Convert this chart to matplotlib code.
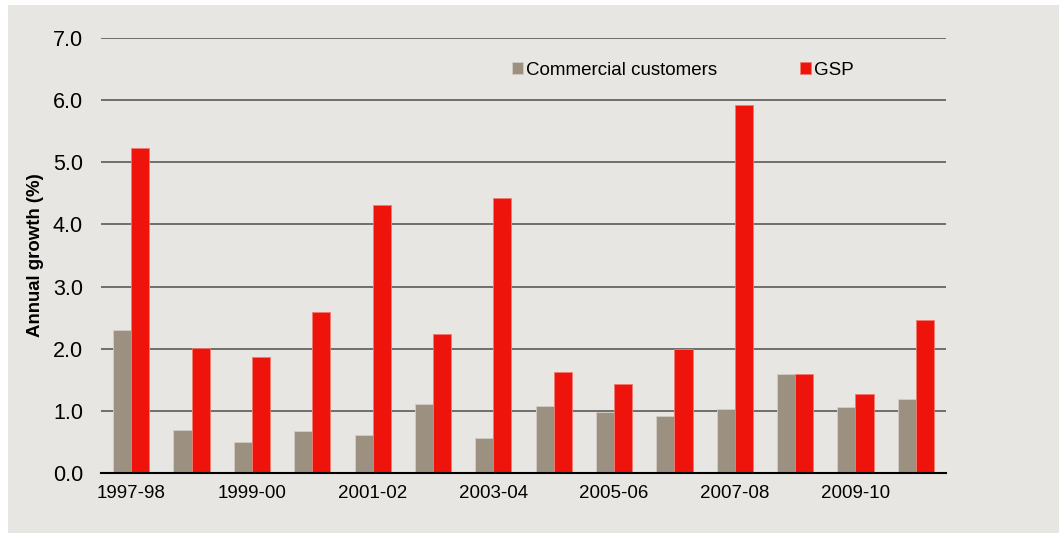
import numpy as np
import matplotlib.pyplot as plt
from matplotlib.patches import Rectangle

plt.rcParams["font.family"] = ["Liberation Sans", "DejaVu Sans"]

# Annual growth by financial year
years = ["1997-98", "1998-99", "1999-00", "2000-01", "2001-02", "2002-03", "2003-04",
         "2004-05", "2005-06", "2006-07", "2007-08", "2008-09", "2009-10", "2010-11"]
commercial = [2.30, 0.70, 0.50, 0.68, 0.61, 1.11, 0.57, 1.08, 0.98, 0.91, 1.03, 1.60, 1.07, 1.19]
gsp = [5.23, 2.01, 1.87, 2.59, 4.31, 2.24, 4.43, 1.62, 1.43, 2.00, 5.92, 1.59, 1.27, 2.47]
yticks = [0, 1, 2, 3, 4, 5, 6, 7]

BG = "#e8e6e2"
GREY = "#9c9180"
RED = "#ee130b"

fig = plt.figure(figsize=(10.59, 5.33), dpi=100)
fig.patch.set_facecolor("white")
fig.patches.append(Rectangle((8 / 1059, 0), 1 - 8 / 1059, 1 - 5 / 533,
                             transform=fig.transFigure, facecolor=BG,
                             edgecolor="none", zorder=-10))

ax = fig.add_axes([101 / 1059, 1 - 473 / 533, 845 / 1059, 435 / 533])
ax.set_facecolor(BG)

x = np.arange(len(years))
w = 0.30
ax.bar(x - w / 2, commercial, width=w, color=GREY, edgecolor="#d2cdc5",
       linewidth=0.6, label="Commercial customers", zorder=3)
ax.bar(x + w / 2, gsp, width=w, color=RED, edgecolor="#f07a70",
       linewidth=0.6, label="GSP", zorder=3)

ax.set_xlim(-0.5, len(years) - 0.5)
ax.set_ylim(0, 7)
ax.set_yticks(yticks)
ax.set_yticklabels([f"{v:.1f}" for v in yticks], fontsize=15.5)
ax.set_xticks(x[::2])
ax.set_xticklabels(years[::2], fontsize=13.5)
ax.tick_params(axis="y", length=0, pad=13)
ax.tick_params(axis="x", length=0, pad=9)

for v in yticks[1:]:
    ax.axhline(v, color="#5a5a5a", linewidth=1.2, zorder=1)

for side in ["top", "right", "left"]:
    ax.spines[side].set_visible(False)
ax.spines["bottom"].set_color("black")
ax.spines["bottom"].set_linewidth(1.5)
ax.spines["bottom"].set_zorder(4)

ax.set_ylabel("Annual growth (%)", fontsize=13.4, fontweight="bold")
ax.yaxis.set_label_coords(-0.068, 0.5)

fig.legend(*ax.get_legend_handles_labels(), loc="center left",
           bbox_to_anchor=(512 / 1059, 1 - 70.5 / 533), ncol=2, frameon=False,
           fontsize=13.5, handlelength=0.6, handleheight=0.6, handletextpad=0.15,
           columnspacing=4.4, borderpad=0, borderaxespad=0)

fig.savefig("out.png", dpi=100, facecolor=fig.get_facecolor())
